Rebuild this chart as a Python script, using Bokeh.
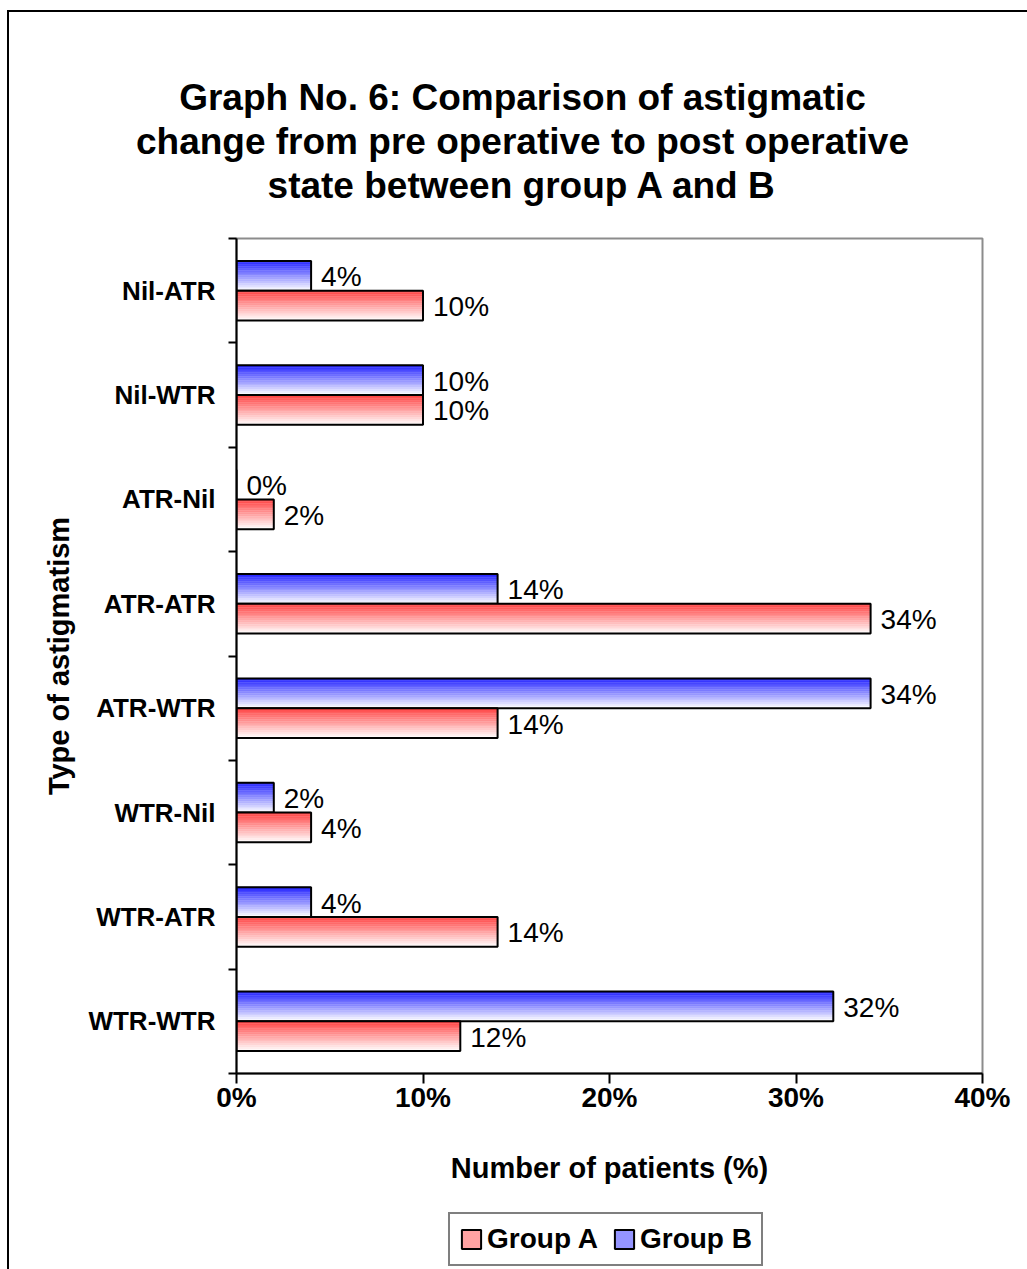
from bokeh.plotting import figure
from bokeh.layouts import column
from bokeh.models import (ColumnDataSource, Range1d, FixedTicker, PrintfTickFormatter,
                          Legend, LegendItem, Title)
from bokeh.transform import dodge
from bokeh.core.properties import value
from bokeh.embed import file_html
from bokeh.resources import INLINE

# Astigmatic change categories, listed from the top of the chart downwards
categories = ["Nil-ATR", "Nil-WTR", "ATR-Nil", "ATR-ATR",
              "ATR-WTR", "WTR-Nil", "WTR-ATR", "WTR-WTR"]
group_a = [10, 10, 2, 34, 14, 4, 14, 12]   # % of patients, Group A
group_b = [4, 10, 0, 14, 34, 2, 4, 32]     # % of patients, Group B
x_ticks = [0, 10, 20, 30, 40]
title_lines = ["Graph No. 6: Comparison of astigmatic",
               "change from pre operative to post operative",
               "state between group A and B"]

FONT = "Liberation Sans"
W = 1018                 # inner width of the bordered chart area
LEG_H = 70               # height of the legend strip under the chart
MAIN_H = 1257 - LEG_H
BORDER_L, BORDER_R, BORDER_T, BORDER_B = 227, 45, 226, 126

n = len(categories)
pos = [n - 1 - i for i in range(n)]  # first category sits at the top

src = ColumnDataSource(dict(
    pos=pos, a=group_a, b=group_b,
    a_lbl=[f"{v}%" for v in group_a],
    b_lbl=[f"{v}%" for v in group_b],
))

p = figure(width=W, height=MAIN_H, output_backend="svg", toolbar_location=None,
           title=None,
           x_range=Range1d(0, 40), y_range=Range1d(-0.5, n - 0.5),
           min_border_left=BORDER_L, min_border_right=BORDER_R,
           min_border_top=BORDER_T, min_border_bottom=BORDER_B,
           background_fill_color="white", border_fill_color="white")
p.grid.visible = False
p.outline_line_color = "#8c8c8c"
p.outline_line_width = 2

# ---- axes ----
xa = p.xaxis[0]
ya = p.yaxis[0]
xa.ticker = FixedTicker(ticks=x_ticks)
xa.formatter = PrintfTickFormatter(format="%d%%")
ya.ticker = FixedTicker(ticks=pos, minor_ticks=[k - 0.5 for k in range(n + 1)])
ya.major_label_overrides = {pp: c for pp, c in zip(pos, categories)}
xa.axis_label = "Number of patients (%)"
ya.axis_label = "Type of astigmatism"

for ax in (xa, ya):
    ax.axis_line_color = "black"
    ax.axis_line_width = 2
    ax.major_label_text_font = FONT
    ax.major_label_text_font_style = "bold"
    ax.major_label_text_color = "black"
    ax.axis_label_text_font = FONT
    ax.axis_label_text_font_style = "bold"
    ax.axis_label_text_font_size = "29px"
    ax.axis_label_text_color = "black"

xa.major_label_text_font_size = "28px"
xa.major_tick_in = 0
xa.major_tick_out = 10
xa.major_tick_line_width = 2
xa.major_tick_line_color = "black"
xa.minor_tick_line_color = None
xa.major_label_standoff = -2
xa.axis_label_standoff = 36

ya.major_label_text_font_size = "26px"
ya.major_tick_line_color = None
ya.major_tick_in = 0
ya.major_tick_out = 0
ya.minor_tick_in = 0
ya.minor_tick_out = 8
ya.minor_tick_line_width = 2
ya.minor_tick_line_color = "black"
ya.major_label_standoff = 13
ya.axis_label_standoff = 10

# ---- bars with a vertical colour fade (strong at the top, white at the bottom) ----
BAR_H = 0.285
N_STRIPS = 16
RED = (255, 70, 70)
BLUE = (40, 40, 255)


def shade(rgb, t):
    return "#%02x%02x%02x" % tuple(round(c + (255 - c) * t) for c in rgb)


groups = [("Group B", "b", "b_lbl", BAR_H / 2, BLUE),
          ("Group A", "a", "a_lbl", -BAR_H / 2, RED)]

for name, col, lbl, off, rgb in groups:
    strip_h = BAR_H / N_STRIPS
    for k in range(N_STRIPS):
        c = shade(rgb, k / (N_STRIPS - 1) * 0.97)
        yc = off + BAR_H / 2 - (k + 0.5) * strip_h
        p.hbar(y=dodge("pos", yc, range=p.y_range), left=0, right=col,
               height=strip_h * 1.02, source=src,
               fill_color=c, line_color=c, line_width=0.4)
    p.hbar(y=dodge("pos", off, range=p.y_range), left=0, right=col,
           height=BAR_H, source=src, fill_color=None,
           line_color="black", line_width=2)
    p.text(x=col, y=dodge("pos", off, range=p.y_range), text=lbl, source=src,
           x_offset=10, y_offset=1, text_align="left", text_baseline="middle",
           text_font=value(FONT), text_font_size="28px", text_color="black")

# ---- heading: three bold lines centred on the whole chart area ----
# advance widths (em) of the bold sans face, used to centre each line
BOLD_EM = {" ": .278, ".": .278, ":": .333, "6": .556, "A": .722, "B": .722,
           "C": .722, "G": .778, "N": .722, "a": .556, "b": .611, "c": .556,
           "d": .611, "e": .556, "f": .333, "g": .611, "h": .611, "i": .278,
           "m": .889, "n": .611, "o": .611, "p": .611, "r": .389, "s": .556,
           "t": .333, "u": .611, "v": .556, "w": .778}
TITLE_PX = 37
TITLE_CENTER = 522 - 9          # heading centre within the canvas
frame_left = BORDER_L

# gap between the heading and the plot area
p.add_layout(Title(text=" ", text_font_size="10px", standoff=18), "above")
for line in reversed(title_lines):
    w = sum(BOLD_EM.get(ch, 0.6) for ch in line) * TITLE_PX
    p.add_layout(Title(text=line, align="left", vertical_align="middle",
                       offset=TITLE_CENTER - w / 2 - frame_left, standoff=1,
                       text_font=FONT, text_font_style="bold",
                       text_font_size=f"{TITLE_PX}px", text_color="black"), "above")

# ---- legend strip ----
leg = figure(width=W, height=LEG_H, output_backend="svg", toolbar_location=None,
             title=None, x_axis_location=None, y_axis_location=None,
             x_range=Range1d(0, 1), y_range=Range1d(0, 1),
             min_border_left=BORDER_L, min_border_right=BORDER_R,
             min_border_top=0, min_border_bottom=0, outline_line_color=None,
             background_fill_color="white", border_fill_color="white")
leg.grid.visible = False
# swatch renderers: a tiny bar tucked behind the opaque legend box
sw_a = leg.hbar(y=[0.4], left=[0.49], right=[0.51], height=0.05,
                fill_color=shade(RED, 0.5), line_color="black", line_width=2)
sw_b = leg.hbar(y=[0.4], left=[0.49], right=[0.51], height=0.05,
                fill_color=shade(BLUE, 0.5), line_color="black", line_width=2)
legend = Legend(items=[LegendItem(label="Group A", renderers=[sw_a]),
                       LegendItem(label="Group B", renderers=[sw_b])],
                orientation="horizontal", location=(212, 3),
                glyph_width=24, glyph_height=24, label_standoff=4, spacing=14,
                padding=9, margin=0,
                label_text_font=FONT, label_text_font_style="bold",
                label_text_font_size="28px", label_text_color="black",
                border_line_color="black", border_line_width=2,
                background_fill_color="white", background_fill_alpha=1)
leg.add_layout(legend, "center")

# bordered chart area (its left and top edges fall inside the page)
root = column(p, leg, spacing=0, margin=(10, 0, 0, 7),
              styles={"border-left": "2px solid black", "border-top": "2px solid black"})

open("out.html", "w").write(file_html(root, INLINE))
